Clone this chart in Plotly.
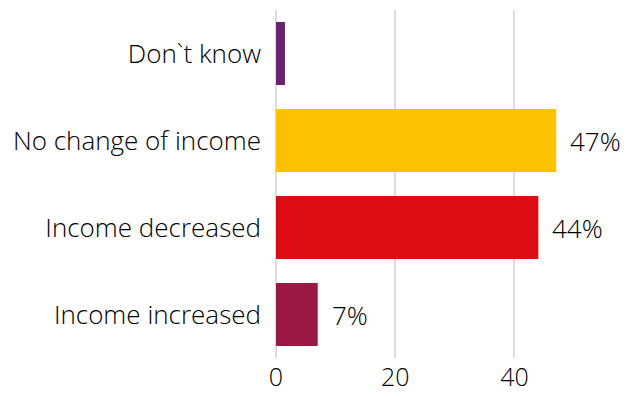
import plotly.graph_objects as go

# Survey answers, drawn bottom to top
categories = ["Income increased", "Income decreased", "No change of income", "Don`t know"]
shares = [7, 44, 47, 1.5]
value_labels = ["7%", "44%", "47%", ""]
bar_colors = ["#9B1842", "#DE0C14", "#FCC200", "#6A246F"]
x_ticks = [0, 20, 40]

font_family = "'Open Sans', Roboto, 'DejaVu Sans', sans-serif"
font_weight = 300
text_color = "#000000"
font_size = 26

fig = go.Figure(
    go.Bar(
        x=shares,
        y=categories,
        orientation="h",
        marker=dict(color=bar_colors, line=dict(width=0)),
        hoverinfo="skip",
    )
)

# Percentage labels to the right of each bar
for cat, val, lab in zip(categories, shares, value_labels):
    if lab:
        fig.add_annotation(
            x=val, y=cat, text=lab, showarrow=False,
            xanchor="left", yanchor="middle", xshift=12,
            font=dict(family=font_family, size=font_size, color=text_color, weight=font_weight),
        )

fig.update_layout(
    width=632,
    height=397,
    margin=dict(l=276, r=46, t=10, b=39),
    paper_bgcolor="white",
    plot_bgcolor="white",
    bargap=0.276,
    showlegend=False,
    font=dict(family=font_family, size=font_size, color=text_color, weight=font_weight),
)

fig.update_xaxes(
    range=[0, 52],
    tickvals=x_ticks,
    ticktext=[str(t) for t in x_ticks],
    showgrid=True,
    gridcolor="#dcdcdc",
    gridwidth=2,
    zeroline=True,
    zerolinecolor="#dcdcdc",
    zerolinewidth=2,
    showline=False,
    ticks="",
    automargin=False,
    ticklabelstandoff=2,
    tickfont=dict(family=font_family, size=25, color=text_color, weight=font_weight),
)

fig.update_yaxes(
    categoryorder="array",
    categoryarray=categories,
    showgrid=False,
    zeroline=False,
    showline=False,
    ticks="",
    automargin=False,
    ticklabelstandoff=14,
    tickfont=dict(family=font_family, size=font_size, color=text_color, weight=font_weight),
)

fig.write_html("out.html")
